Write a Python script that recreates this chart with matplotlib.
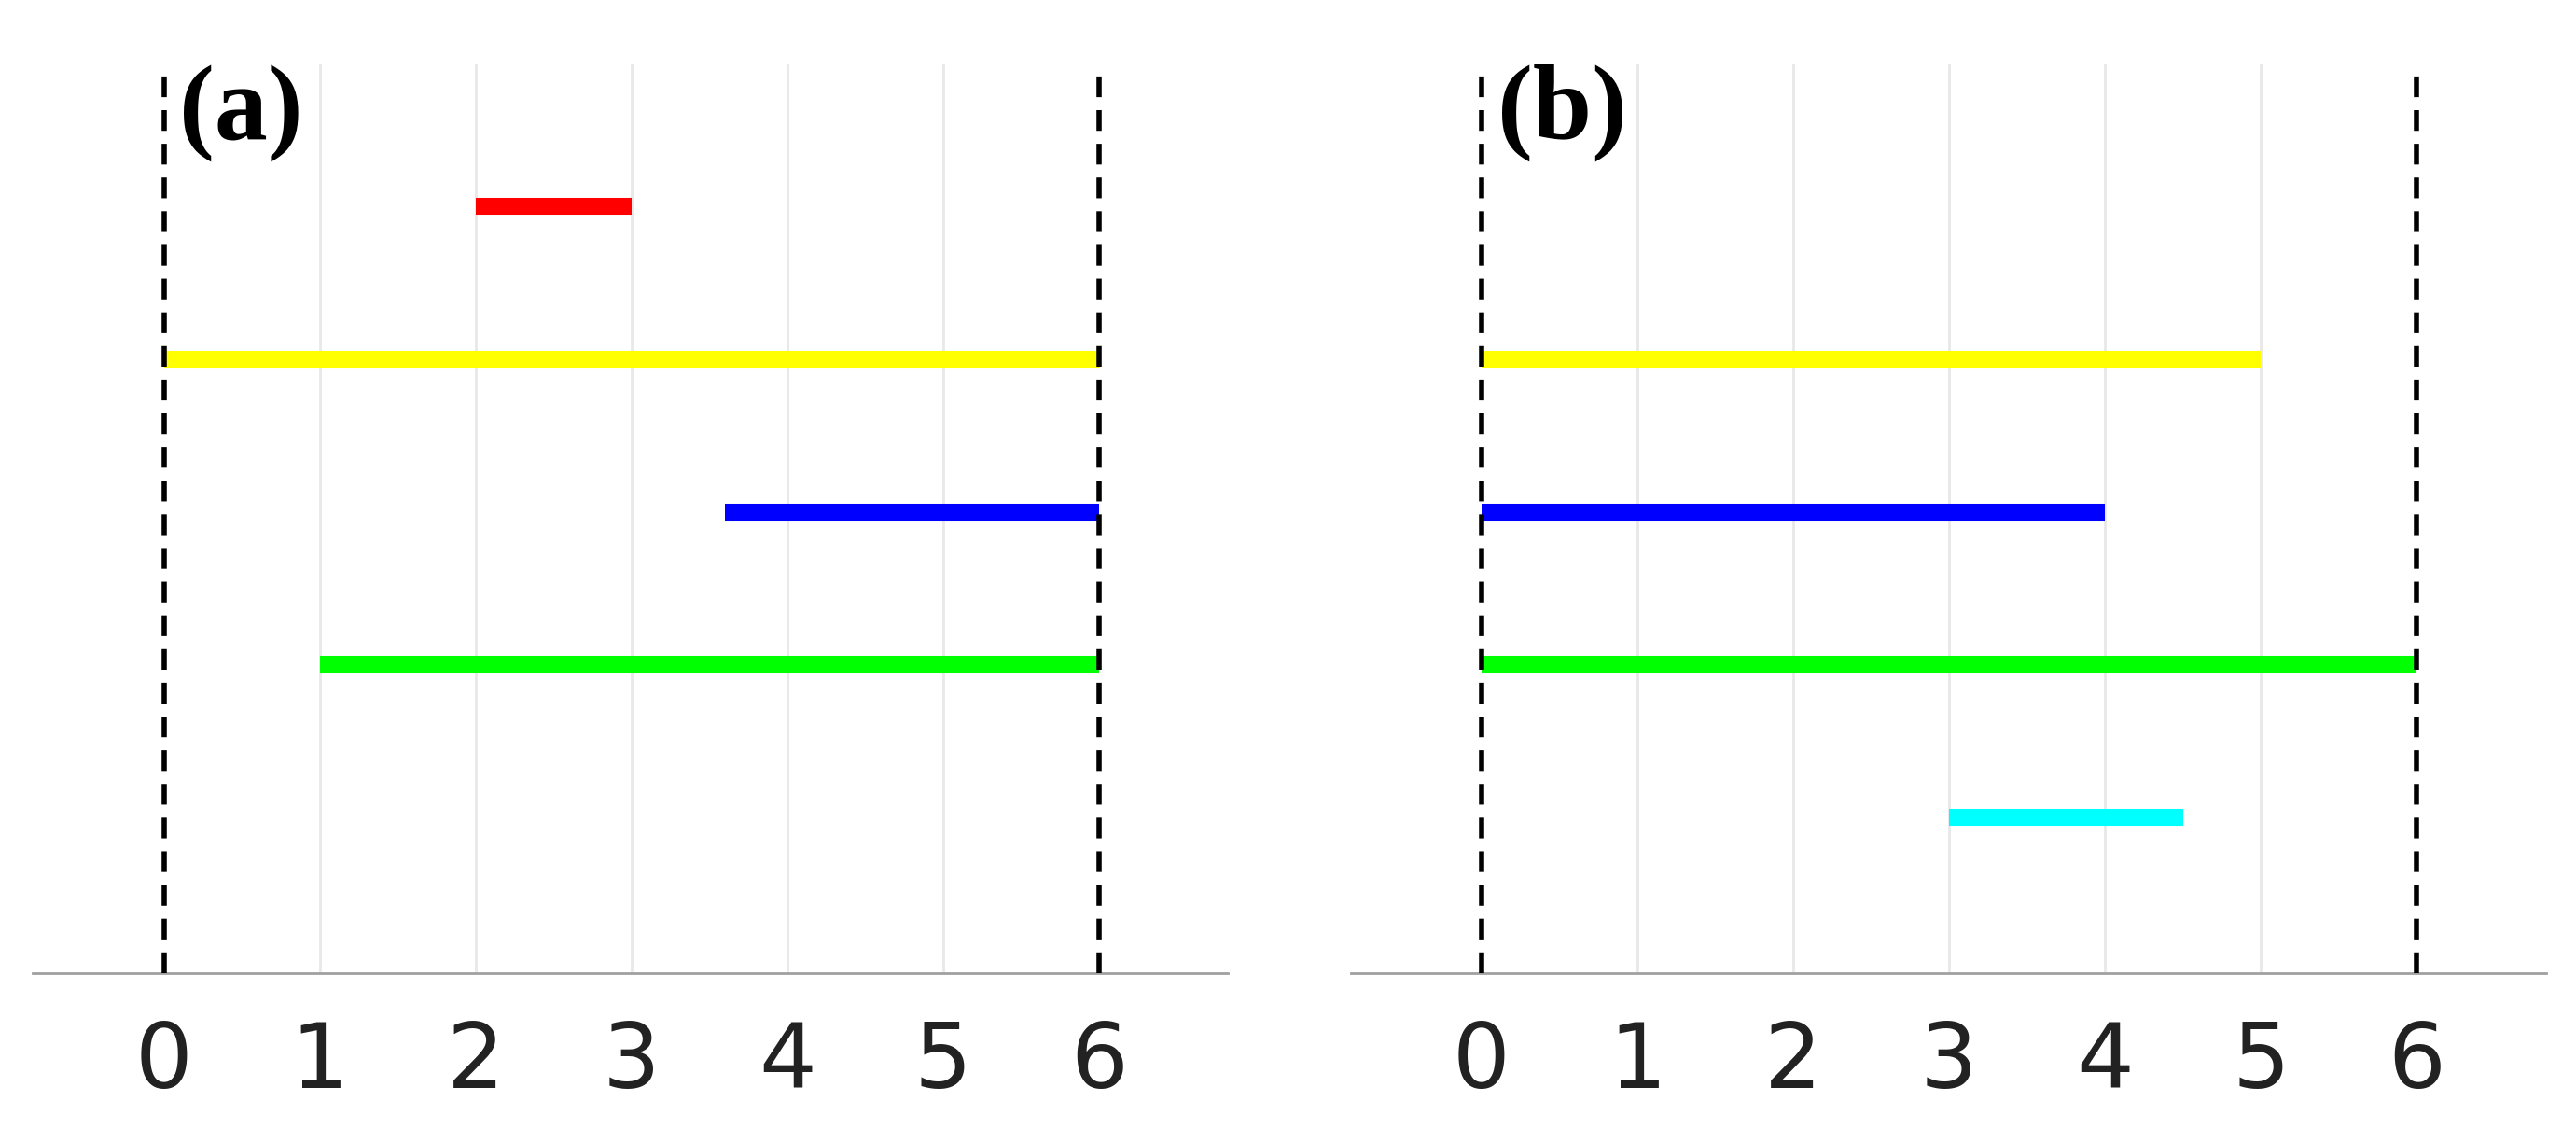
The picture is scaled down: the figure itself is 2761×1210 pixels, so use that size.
import matplotlib
matplotlib.use("Agg")
import matplotlib.pyplot as plt

ticks = [0, 1, 2, 3, 4, 5, 6]
a_starts = [2, 0, 3.6, 1]
a_ends = [3, 6, 6, 6]
a_levels = [5, 4, 3, 2]
a_colors = ["#ff0000", "#ffff00", "#0000ff", "#00ff00"]
b_starts = [0, 0, 0, 3]
b_ends = [5, 4, 6, 4.5]
b_levels = [4, 3, 2, 1]
b_colors = ["#ffff00", "#0000ff", "#00ff00", "#00ffff"]

fig = plt.figure(figsize=(27.61, 12.10), dpi=100)
panels = [(0.0128, "(a)", a_starts, a_ends, a_levels, a_colors),
          (0.5243, "(b)", b_starts, b_ends, b_levels, b_colors)]
for left, lab, s, e, lv, c in panels:
    ax = fig.add_axes([left, 0.138, 0.464, 0.862])
    ax.set_xlim(-0.84, 6.83)
    ax.set_ylim(0, 6.37)
    for t in [1, 2, 3, 4, 5]:
        ax.plot([t, t], [0, 5.94], color="#e8e8e8", lw=2, zorder=0)
    for t in [0, 6]:
        ax.plot([t, t], [0, 5.94], color="black", lw=4, ls=(0, (4, 2.5)), zorder=3)
    for x0, x1, y, col in zip(s, e, lv, c):
        ax.plot([x0, x1], [y + 0.02, y + 0.02], color=col, lw=13,
                solid_capstyle="butt", zorder=2)
    for sp in ["top", "right", "left"]:
        ax.spines[sp].set_visible(False)
    ax.spines["bottom"].set_color("#a0a0a0")
    ax.spines["bottom"].set_linewidth(2)
    ax.set_yticks([])
    ax.set_xticks(ticks)
    ax.tick_params(axis="x", length=0, pad=36, labelsize=70, labelcolor="#222222")
    ax.text(0.1, 5.95, lab, fontsize=82, fontweight="bold", family="Liberation Serif",
            va="top", ha="left")
fig.savefig("out.png", dpi=100)
